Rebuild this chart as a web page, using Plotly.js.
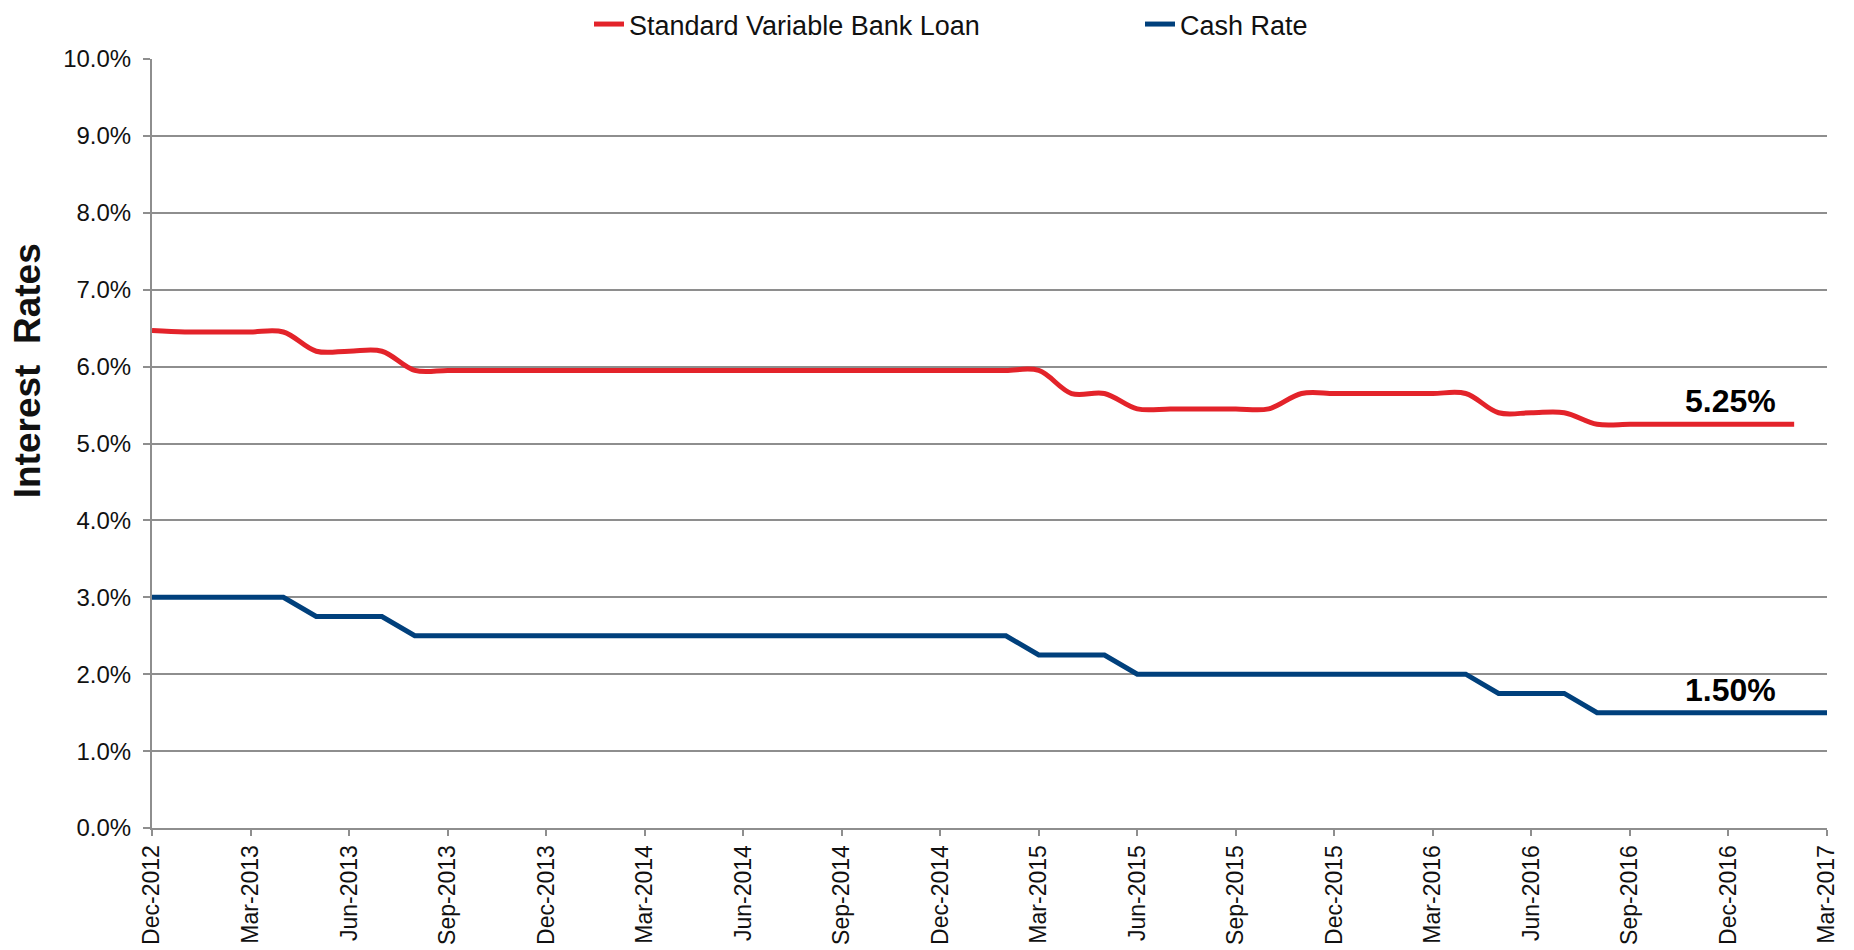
<!DOCTYPE html>
<html>
<head>
<meta charset="utf-8">
<script src="https://cdn.plot.ly/plotly-3.0.1.min.js"></script>
<style>html,body{margin:0;padding:0;background:#fff;}#chart{width:1854px;height:950px;}</style>
</head>
<body>
<div id="chart"></div>
<script>
// Monthly categories, Dec-2012 .. Mar-2017
const months = [
  "Dec-2012","Jan-2013","Feb-2013","Mar-2013","Apr-2013","May-2013","Jun-2013","Jul-2013","Aug-2013","Sep-2013","Oct-2013","Nov-2013",
  "Dec-2013","Jan-2014","Feb-2014","Mar-2014","Apr-2014","May-2014","Jun-2014","Jul-2014","Aug-2014","Sep-2014","Oct-2014","Nov-2014",
  "Dec-2014","Jan-2015","Feb-2015","Mar-2015","Apr-2015","May-2015","Jun-2015","Jul-2015","Aug-2015","Sep-2015","Oct-2015","Nov-2015",
  "Dec-2015","Jan-2016","Feb-2016","Mar-2016","Apr-2016","May-2016","Jun-2016","Jul-2016","Aug-2016","Sep-2016","Oct-2016","Nov-2016",
  "Dec-2016","Jan-2017","Feb-2017","Mar-2017"
];
// Quarterly tick labels
const tickLabels = [
  "Dec-2012","Mar-2013","Jun-2013","Sep-2013","Dec-2013","Mar-2014","Jun-2014","Sep-2014",
  "Dec-2014","Mar-2015","Jun-2015","Sep-2015","Dec-2015","Mar-2016","Jun-2016","Sep-2016",
  "Dec-2016","Mar-2017"
];
// Standard Variable Bank Loan rate (%), Dec-2012 .. Feb-2017
const svrMonths = months.slice(0, 51);
const svrRate = [
  6.47,6.45,6.45,6.45,6.45,
  6.20,6.20,6.20,
  5.95,5.95,5.95,5.95,5.95,5.95,5.95,5.95,5.95,5.95,5.95,5.95,5.95,5.95,5.95,5.95,5.95,5.95,5.95,5.95,
  5.65,5.65,
  5.45,5.45,5.45,5.45,5.45,
  5.65,5.65,5.65,5.65,5.65,5.65,
  5.40,5.40,5.40,
  5.25,5.25,5.25,5.25,5.25,5.25,5.25
];
// RBA Cash Rate (%), Dec-2012 .. Mar-2017
const cashRate = [
  3.00,3.00,3.00,3.00,3.00,
  2.75,2.75,2.75,
  2.50,2.50,2.50,2.50,2.50,2.50,2.50,2.50,2.50,2.50,2.50,2.50,2.50,2.50,2.50,2.50,2.50,2.50,2.50,
  2.25,2.25,2.25,
  2.00,2.00,2.00,2.00,2.00,2.00,2.00,2.00,2.00,2.00,2.00,
  1.75,1.75,1.75,
  1.50,1.50,1.50,1.50,1.50,1.50,1.50,1.50
];
const seriesNames = ["Standard Variable Bank Loan", "Cash Rate"];
const endLabels = ["5.25%", "1.50%"];
const yTitle = "Interest&nbsp;&nbsp;Rates";

const FONT = "Liberation Sans, Arial, Helvetica, sans-serif";
const RED = "#E3232A";
const BLUE = "#00407C";
const GRID = "#8E8E8E";

const traces = [
  {
    type: "scatter", mode: "lines", name: seriesNames[0],
    x: svrMonths, y: svrRate,
    line: {color: RED, width: 5, shape: "spline", smoothing: 1},
    hoverinfo: "skip"
  },
  {
    type: "scatter", mode: "lines", name: seriesNames[1],
    x: months, y: cashRate,
    line: {color: BLUE, width: 5},
    hoverinfo: "skip"
  }
];

const layout = {
  width: 1854, height: 950,
  margin: {l: 152, r: 27, t: 59, b: 122, pad: 0},
  paper_bgcolor: "#fff", plot_bgcolor: "#fff",
  font: {family: FONT, color: "#111"},
  showlegend: true,
  legend: {
    orientation: "h",
    xref: "container", yref: "container",
    x: 0.3177, xanchor: "left", y: 1, yanchor: "top",
    font: {family: FONT, size: 27, color: "#111"},
    entrywidth: 506, entrywidthmode: "pixels",
    bgcolor: "rgba(0,0,0,0)", traceorder: "normal"
  },
  xaxis: {
    type: "category",
    categoryorder: "array", categoryarray: months,
    range: [0, months.length - 1],
    tickmode: "array", tickvals: tickLabels, ticktext: tickLabels,
    tickangle: -90,
    tickfont: {family: FONT, size: 23, color: "#111"},
    ticks: "outside", ticklen: 6, tickwidth: 2, tickcolor: GRID,
    showgrid: false, zeroline: false,
    showline: true, linecolor: GRID, linewidth: 2,
    fixedrange: true
  },
  yaxis: {
    range: [0, 10], dtick: 1, tick0: 0,
    tickformat: ".1f", ticksuffix: "%",
    tickfont: {family: FONT, size: 24, color: "#111"},
    ticks: "outside", ticklen: 7, tickwidth: 2, tickcolor: GRID,
    ticklabelstandoff: 7,
    showgrid: true, gridcolor: GRID, gridwidth: 2,
    zeroline: false,
    showline: true, linecolor: GRID, linewidth: 2,
    fixedrange: true
  },
  annotations: [
    {xref: "paper", yref: "paper", x: -0.0746, y: 0.594, text: "<b>" + yTitle + "</b>", textangle: -90,
     showarrow: false, font: {family: FONT, size: 37, color: "#111"}, xanchor: "center", yanchor: "middle"},
    {xref: "x", yref: "y", x: 48.05, y: 5.55, text: "<b>" + endLabels[0] + "</b>", showarrow: false,
     font: {family: FONT, size: 32, color: "#000"}, xanchor: "center", yanchor: "middle"},
    {xref: "x", yref: "y", x: 48.05, y: 1.79, text: "<b>" + endLabels[1] + "</b>", showarrow: false,
     font: {family: FONT, size: 32, color: "#000"}, xanchor: "center", yanchor: "middle"}
  ]
};

Plotly.newPlot("chart", traces, layout, {displayModeBar: false, staticPlot: true});
</script>
</body>
</html>
